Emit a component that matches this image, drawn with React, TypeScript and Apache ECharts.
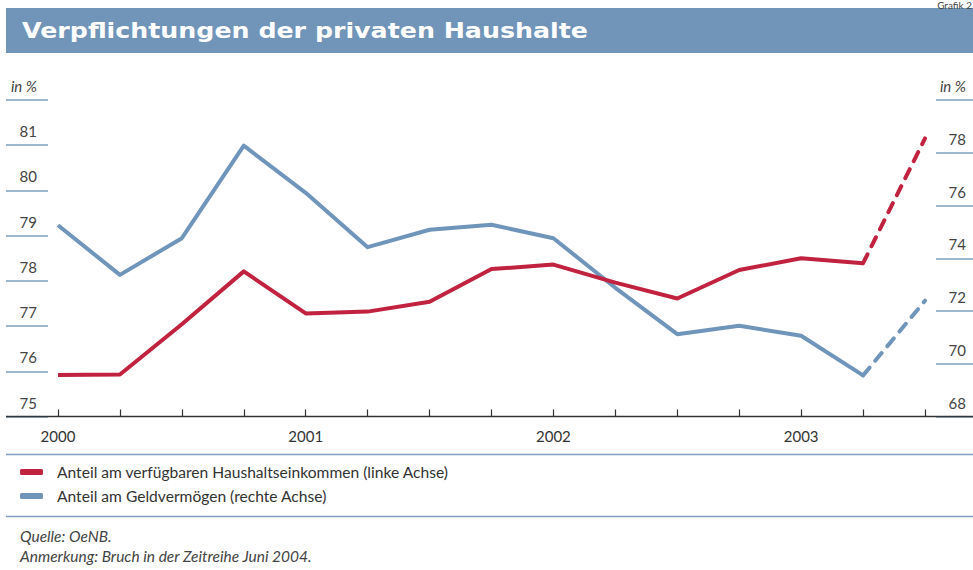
import React, { useEffect, useRef } from "react";
import * as echarts from "echarts";

const categories = [
  "2000 Q1", "2000 Q2", "2000 Q3", "2000 Q4",
  "2001 Q1", "2001 Q2", "2001 Q3", "2001 Q4",
  "2002 Q1", "2002 Q2", "2002 Q3", "2002 Q4",
  "2003 Q1", "2003 Q2", "2003 Q3",
];

// Anteil am verfügbaren Haushaltseinkommen (linke Achse)
const incomeShare = [75.92, 75.93, 77.04, 78.21, 77.28, 77.32, 77.54, 78.26, 78.36, 77.96, 77.61, 78.24, 78.5, 78.39, 81.15];
// Anteil am Geldvermögen (rechte Achse)
const assetShare = [75.25, 73.37, 74.76, 78.27, 76.48, 74.42, 75.08, 75.27, 74.76, 72.88, 71.12, 71.44, 71.06, 69.56, 72.39];

const breakIndex = 13; // Bruch in der Zeitreihe: letzter Abschnitt gestrichelt

const leftAxis = { min: 75, max: 82, interval: 1 };
const rightAxis = { min: 68, max: 80, interval: 2 };

const nameIncome = "Anteil am verfügbaren Haushaltseinkommen (linke Achse)";
const nameAssets = "Anteil am Geldvermögen (rechte Achse)";

const title = "Verpflichtungen der privaten Haushalte";
const source = "Quelle: OeNB.";
const note = "Anmerkung: Bruch in der Zeitreihe Juni 2004.";

const RED = "#c0223f";
const BLUE = "#6f96ba";
const LINEBLUE = "#7d9fc2";
const FONT = "Lato, 'Open Sans', sans-serif";

function solidPart(arr: number[]) {
  return arr.map((v, i) => (i <= breakIndex ? v : null));
}
function dashedPart(arr: number[]) {
  return arr.map((v, i) => (i >= breakIndex ? v : null));
}

export default function App() {
  const ref = useRef<HTMLDivElement>(null);

  useEffect(() => {
    if (!ref.current) return;
    const chart = echarts.init(ref.current, undefined, { renderer: "svg" });

    const axisLabelBase = {
      fontSize: 15,
      color: "#444",
      fontFamily: FONT,
      verticalAlign: "bottom",
      lineHeight: 16,
      padding: [0, 0, 6, 0],
      rich: {
        i: { fontSize: 15, color: "#444", fontFamily: FONT, fontStyle: "italic", lineHeight: 16 },
      },
    };

    chart.setOption({
      animation: false,
      backgroundColor: "#fff",
      grid: { left: 58, right: 48, top: 100, bottom: 153.5, containLabel: false },
      legend: {
        data: [nameIncome, nameAssets],
        orient: "vertical",
        left: 20,
        top: 464,
        padding: 0,
        icon: "roundRect",
        itemWidth: 23,
        itemHeight: 6,
        itemGap: 8,
        selectedMode: false,
        textStyle: { fontSize: 15.6, color: "#333", fontFamily: FONT, lineHeight: 16, padding: [0, 0, 0, 9] },
      },
      xAxis: {
        type: "category",
        data: categories,
        boundaryGap: false,
        axisLine: { show: false },
        axisTick: { show: true, inside: true, length: 7, interval: 0, lineStyle: { color: "#333", width: 1.2 } },
        axisLabel: {
          interval: 0,
          margin: 12,
          fontSize: 15,
          color: "#333",
          fontFamily: FONT,
          formatter: (v: string) => (v.endsWith("Q1") ? v.slice(0, 4) : ""),
        },
        splitLine: { show: false },
      },
      yAxis: [
        {
          type: "value",
          position: "left",
          offset: 10,
          min: leftAxis.min,
          max: leftAxis.max,
          interval: leftAxis.interval,
          axisLine: { show: false },
          axisTick: { show: true, inside: false, length: 42, lineStyle: { color: LINEBLUE, width: 1.5 } },
          splitLine: { show: false },
          axisLabel: {
            ...axisLabelBase,
            margin: 11,
            align: "right",
            formatter: (v: number) => (v === leftAxis.max ? "{i|in %}" : String(v)),
          },
        },
        {
          type: "value",
          position: "right",
          offset: 11,
          min: rightAxis.min,
          max: rightAxis.max,
          interval: rightAxis.interval,
          axisLine: { show: false },
          axisTick: { show: true, inside: false, length: 37, lineStyle: { color: LINEBLUE, width: 1.5 } },
          splitLine: { show: false },
          axisLabel: {
            ...axisLabelBase,
            margin: 30,
            align: "right",
            formatter: (v: number) => (v === rightAxis.max ? "{i|in %}" : String(v)),
          },
        },
      ],
      series: [
        {
          name: nameIncome,
          type: "line",
          yAxisIndex: 0,
          data: solidPart(incomeShare),
          symbol: "none",
          color: RED,
          lineStyle: { color: RED, width: 4, join: "round" },
          z: 3,
        },
        {
          name: nameIncome + " (Bruch)",
          type: "line",
          yAxisIndex: 0,
          data: dashedPart(incomeShare),
          symbol: "none",
          color: RED,
          lineStyle: { color: RED, width: 4, type: [10, 9], cap: "round" },
          z: 3,
        },
        {
          name: nameAssets,
          type: "line",
          yAxisIndex: 1,
          data: solidPart(assetShare),
          symbol: "none",
          color: BLUE,
          lineStyle: { color: BLUE, width: 4, join: "round" },
          z: 2,
        },
        {
          name: nameAssets + " (Bruch)",
          type: "line",
          yAxisIndex: 1,
          data: dashedPart(assetShare),
          symbol: "none",
          color: BLUE,
          lineStyle: { color: BLUE, width: 4, type: [10, 9], cap: "round" },
          z: 2,
        },
      ],
      graphic: [
        {
          type: "rect",
          shape: { x: 6, y: 8, width: 967, height: 45 },
          style: { fill: "#7095b8" },
          z: 10,
        },
        {
          type: "text",
          x: 22,
          y: 31,
          scaleX: 1.15,
          style: {
            text: title,
            fill: "#fff",
            font: "bold 22px 'DejaVu Sans', Verdana, sans-serif",
            textVerticalAlign: "middle",
            verticalAlign: "middle",
          },
          z: 11,
        },
        {
          type: "text",
          x: 972,
          y: 0,
          style: {
            text: "Grafik 2",
            fill: "#444",
            font: "10px Lato, sans-serif",
            align: "right",
            textAlign: "right",
            verticalAlign: "top",
            textVerticalAlign: "top",
          },
          z: 12,
        },
        {
          type: "line",
          shape: { x1: 6, y1: 416.5, x2: 973, y2: 416.5 },
          style: { stroke: "#333", lineWidth: 1.5 },
          z: 10,
        },
        {
          type: "line",
          shape: { x1: 6, y1: 454.5, x2: 973, y2: 454.5 },
          style: { stroke: LINEBLUE, lineWidth: 1.5 },
          z: 10,
        },
        {
          type: "line",
          shape: { x1: 6, y1: 516.5, x2: 973, y2: 516.5 },
          style: { stroke: LINEBLUE, lineWidth: 1.5 },
          z: 10,
        },
        {
          type: "text",
          x: 20,
          y: 536,
          style: {
            text: source,
            fill: "#444",
            font: "italic 15.5px Lato, sans-serif",
            verticalAlign: "middle",
            textVerticalAlign: "middle",
          },
          z: 10,
        },
        {
          type: "text",
          x: 20,
          y: 556,
          style: {
            text: note,
            fill: "#444",
            font: "italic 15.5px Lato, sans-serif",
            verticalAlign: "middle",
            textVerticalAlign: "middle",
          },
          z: 10,
        },
      ],
    });

    return () => chart.dispose();
  }, []);

  return (
    <div
      ref={ref}
      style={{ position: "fixed", left: 0, top: 0, width: 973, height: 570, background: "#fff" }}
    />
  );
}
